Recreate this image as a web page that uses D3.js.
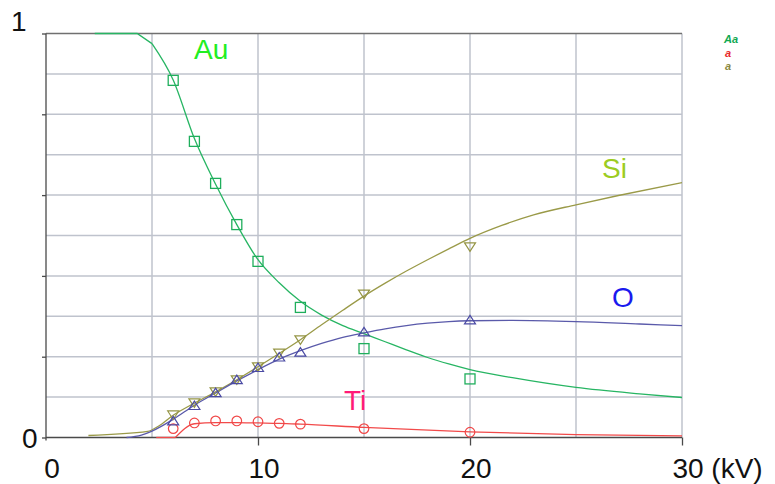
<!DOCTYPE html>
<html><head><meta charset="utf-8">
<script src="https://cdn.jsdelivr.net/npm/d3@7"></script>
<style>body{margin:0;background:#fff}svg{display:block}text{font-family:"Liberation Sans",Arial,sans-serif}</style>
</head><body>
<svg id="c" width="775" height="484"></svg>
<script>
// ---- data ----
const auCurveKV = [2.3, 4.3, 5, 6, 7, 8, 9, 10, 11, 12, 13, 14, 15, 16, 17, 18, 19, 20, 22, 25, 28, 30];
const auCurve   = [1.0, 1.0, 0.975, 0.885, 0.74, 0.627, 0.527, 0.44, 0.383, 0.337, 0.303, 0.277, 0.257, 0.237, 0.217, 0.198, 0.182, 0.168, 0.148, 0.124, 0.108, 0.099];
const siCurveKV = [2, 4.8, 5.3, 6, 7, 8, 9, 10, 11, 12, 13, 14, 15, 16, 17, 18, 19, 20, 21.5, 23, 25, 27, 30];
const siCurve   = [0.005, 0.015, 0.028, 0.055, 0.085, 0.113, 0.143, 0.175, 0.208, 0.242, 0.279, 0.315, 0.35, 0.382, 0.412, 0.44, 0.467, 0.493, 0.525, 0.551, 0.576, 0.599, 0.631];
const oCurveKV  = [3.8, 4.5, 5, 6, 7, 8, 9, 10, 11, 12, 13, 14, 15, 16, 17, 18, 19, 20, 22, 25, 28, 30];
const oCurve    = [0.0, 0.006, 0.016, 0.045, 0.08, 0.11, 0.14, 0.168, 0.194, 0.215, 0.233, 0.248, 0.259, 0.269, 0.277, 0.283, 0.287, 0.289, 0.29, 0.287, 0.281, 0.277];
const tiCurveKV = [5.2, 6.1, 7, 8, 9, 10, 11, 12, 15, 20, 25, 30];
const tiCurve   = [0.0, 0.0, 0.034, 0.037, 0.037, 0.036, 0.035, 0.033, 0.025, 0.014, 0.007, 0.004];

const auPtsKV = [6, 7, 8, 9, 10, 12, 15, 20];
const auPts   = [0.884, 0.733, 0.629, 0.527, 0.436, 0.322, 0.22, 0.145];
const siPtsKV = [6, 7, 8, 9, 10, 11, 12, 15, 20];
const siPts   = [0.057, 0.087, 0.114, 0.144, 0.176, 0.21, 0.243, 0.356, 0.473];
const oPtsKV  = [6, 7, 8, 9, 10, 11, 12, 15, 20];
const oPts    = [0.04, 0.078, 0.11, 0.142, 0.172, 0.198, 0.21, 0.26, 0.29];
const tiPtsKV = [6, 7, 8, 9, 10, 11, 12, 15, 20];
const tiPts   = [0.022, 0.036, 0.041, 0.041, 0.039, 0.035, 0.033, 0.022, 0.013];

const xTickLabels = ["0", "10", "20", "30"];
const xTickValues = [0, 10, 20, 30];
const yTickLabels = ["0", "1"];
const seriesLabels = ["Au", "Si", "O", "Ti"];

// ---- layout ----
const svg = d3.select("#c");
const x = d3.scaleLinear().domain([0, 30]).range([46, 682]);
const y = d3.scaleLinear().domain([0, 1]).range([437.5, 33.5]);

// grid
const g = svg.append("g");
g.selectAll("line.v").data(d3.range(5, 31, 5)).join("line")
  .attr("x1", d => x(d)).attr("x2", d => x(d)).attr("y1", y(1)).attr("y2", y(0))
  .attr("stroke", "#bfc3cd").attr("stroke-width", 1.5);
g.selectAll("line.h").data(d3.range(1, 10).map(i => i / 10)).join("line")
  .attr("x1", x(0)).attr("x2", x(30)).attr("y1", d => y(d)).attr("y2", d => y(d))
  .attr("stroke", "#bfc3cd").attr("stroke-width", 1.5);
// top border
g.append("line").attr("x1", x(0)).attr("x2", x(30)).attr("y1", y(1)).attr("y2", y(1))
  .attr("stroke", "#707070").attr("stroke-width", 1.3);

// axes
const axY = svg.append("g").attr("transform", `translate(${x(0)},0)`)
  .call(d3.axisLeft(y).tickValues([0, 0.2, 0.4, 0.6, 0.8, 1]).tickSize(4).tickFormat(""));
axY.select(".domain").attr("d", `M0,${y(1)}V${y(0) + 3}`);
const axX = svg.append("g").attr("transform", `translate(0,${y(0)})`)
  .call(d3.axisBottom(x).tickValues([10, 20, 30]).tickSize(8).tickFormat(""));
axX.select(".domain").attr("d", `M${x(0)},0H${x(30)}`);
svg.selectAll(".domain,.tick line").attr("stroke", "#4a4a4a").attr("stroke-width", 1.3);

// tick labels
svg.selectAll("text.xl").data(xTickValues).join("text")
  .attr("x", (d, i) => x(d) + 6 - xTickLabels[i].length * 7.8)
  .attr("y", 478).attr("font-size", 28).attr("fill", "#111")
  .text((d, i) => xTickLabels[i] + (d === 30 ? " (kV)" : ""));
svg.append("text").attr("x", 37.5).attr("y", y(0) + 10).attr("text-anchor", "end")
  .attr("font-size", 28).attr("fill", "#111").text(yTickLabels[0]);
svg.append("text").attr("x", 11).attr("y", 31)
  .attr("font-size", 28).attr("fill", "#111").text(yTickLabels[1]);

// curves
const smooth = d3.line().x(d => x(d[0])).y(d => y(d[1])).curve(d3.curveMonotoneX);
const straight = d3.line().x(d => x(d[0])).y(d => y(d[1]));
const curves = [
  [auCurveKV, auCurve, "#27b563", 2],
  [siCurveKV, siCurve, "#9a9a48", 0],
  [oCurveKV, oCurve, "#5a5aaa", 0],
  [tiCurveKV, tiCurve, "#f24a4a", 1]
];
curves.forEach(([kv, v, col, kink]) => {
  const pts = kv.map((k, i) => [k, v[i]]);
  const head = pts.slice(0, kink + 1), tail = pts.slice(kink);
  if (kink > 0) svg.append("path").datum(head)
    .attr("d", straight).attr("fill", "none").attr("stroke", col).attr("stroke-width", 1.3);
  svg.append("path").datum(tail)
    .attr("d", smooth).attr("fill", "none").attr("stroke", col).attr("stroke-width", 1.3);
});

// markers
const zip = (a, b) => a.map((k, i) => [k, b[i]]);
svg.selectAll("rect.au").data(zip(auPtsKV, auPts)).join("rect")
  .attr("x", d => x(d[0]) - 5).attr("y", d => y(d[1]) - 5).attr("width", 10).attr("height", 10)
  .attr("fill", "none").attr("stroke", "#1fae5c").attr("stroke-width", 1.3);
svg.selectAll("circle.ti").data(zip(tiPtsKV, tiPts)).join("circle")
  .attr("cx", d => x(d[0])).attr("cy", d => y(d[1])).attr("r", 4.8)
  .attr("fill", "none").attr("stroke", "#f04646").attr("stroke-width", 1.2);
svg.selectAll("path.si").data(zip(siPtsKV, siPts)).join("path")
  .attr("transform", d => `translate(${x(d[0])},${y(d[1])})`)
  .attr("d", "M-5.5,-3.5L5.5,-3.5L0,5Z")
  .attr("fill", "none").attr("stroke", "#959545").attr("stroke-width", 1.2);
svg.selectAll("path.o").data(zip(oPtsKV, oPts)).join("path")
  .attr("transform", d => `translate(${x(d[0])},${y(d[1])})`)
  .attr("d", "M-5.5,3.5L5.5,3.5L0,-5Z")
  .attr("fill", "none").attr("stroke", "#4a4aa4").attr("stroke-width", 1.2);

// series labels
const labelPos = [[194, 59, "#22ee22"], [602, 178, "#9ccc22"], [612, 307, "#1a1aee"], [344, 410, "#ff1a77"]];
seriesLabels.forEach((t, i) => {
  svg.append("text").attr("x", labelPos[i][0]).attr("y", labelPos[i][1])
    .attr("font-size", 28).attr("fill", labelPos[i][2]).text(t);
});

// tiny legend glyphs
const legendGlyphs = ["Aa", "a", "a"];
const legendCols = ["#10a850", "#e82a2a", "#8a8a40"];
legendGlyphs.forEach((t, i) => {
  svg.append("text").attr("x", 724 + (i ? 1 : 0)).attr("y", [43, 56.5, 70][i])
    .attr("font-size", 11).attr("font-weight", "bold").attr("font-style", "italic")
    .attr("fill", legendCols[i]).text(t);
});
</script>
</body></html>
